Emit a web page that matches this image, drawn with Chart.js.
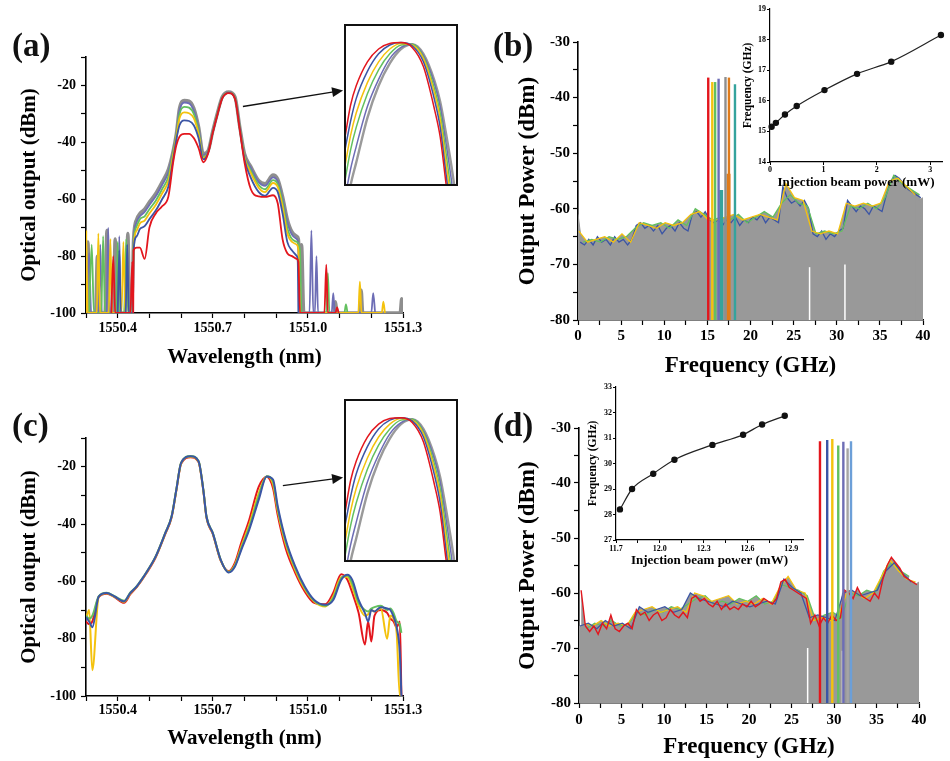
<!DOCTYPE html>
<html>
<head>
<meta charset="utf-8">
<script src="https://cdn.jsdelivr.net/npm/chart.js@4.4.1/dist/chart.umd.min.js"></script>
<style>
  body { margin: 0; background: #fff; }
  #fig { position: relative; width: 950px; height: 761px; background: #fff; overflow: hidden; }
  #fig canvas { position: absolute; }
  .plabel { position: absolute; font: bold 33px 'Liberation Serif', serif; line-height: 1; color: #111; }
</style>
</head>
<body>
<div id="fig">
  <canvas id="chartA" width="470" height="380" style="left:0;top:0"></canvas>
  <canvas id="chartB" width="470" height="385" style="left:480px;top:0"></canvas>
  <canvas id="chartC" width="470" height="381" style="left:0;top:380px"></canvas>
  <canvas id="chartD" width="470" height="381" style="left:480px;top:380px"></canvas>
  <canvas id="insetA" width="114" height="162" style="left:344px;top:24px;background:#fff"></canvas>
  <canvas id="insetC" width="114" height="163" style="left:344px;top:399px;background:#fff"></canvas>
  <canvas id="insetB" width="215" height="195" style="left:735px;top:0"></canvas>
  <canvas id="insetD" width="240" height="195" style="left:575px;top:380px"></canvas>
  <div class="plabel" style="left:12px;top:29px">(a)</div>
  <div class="plabel" style="left:493px;top:29px">(b)</div>
  <div class="plabel" style="left:12px;top:409px">(c)</div>
  <div class="plabel" style="left:493px;top:409px">(d)</div>
</div>
<script>
// ---------- (a) optical spectra ----------
const wlA = [1550.45, 1550.46, 1550.47, 1550.485, 1550.50, 1550.52, 1550.54, 1550.56, 1550.575, 1550.585, 1550.595,
  1550.61, 1550.625, 1550.64, 1550.655, 1550.67, 1550.685, 1550.70, 1550.715, 1550.73, 1550.75, 1550.77, 1550.785,
  1550.80, 1550.82, 1550.845, 1550.865, 1550.89, 1550.905, 1550.92, 1550.935, 1550.95, 1550.965];
const grayA = [-74, -67, -65, -63.5, -61, -58, -54, -49.5, -43, -37, -28, -25.3, -25.5, -28, -34.5, -44, -43, -36, -29.5,
  -24, -22.3, -24, -34.5, -44, -48.5, -53.5, -54.5, -51.5, -53, -59, -67, -71.5, -73];
const purpleA = [-75, -68, -66, -64.5, -62, -59, -55, -50.5, -43.2, -37.2, -28.8, -26, -26.3, -28.8, -35, -44.5, -43.3, -36.2, -29.7,
  -24.1, -22.4, -24.2, -34.7, -44.5, -49, -54, -55.3, -52.3, -53.8, -60, -68, -72.5, -74];
const greenA = [-76, -69.5, -67, -66, -63.5, -60.5, -56.5, -52, -43.5, -37.5, -30, -27.5, -27.8, -30, -36, -45, -43.5, -36.3, -29.8,
  -24.2, -22.5, -24.3, -34.8, -45, -50, -55, -56.5, -53.3, -54.8, -61, -70, -74, -75];
const yellowA = [-77, -71, -68.5, -67.5, -65, -62, -58, -53.5, -44.5, -38, -31.5, -29.5, -29.8, -31.5, -37, -45.5, -43.6, -36.4, -29.9,
  -24.3, -22.5, -24.4, -34.9, -45.3, -50.8, -56, -57.5, -54.3, -55.8, -62.5, -72, -75, -76];
const blueA = [-78, -73, -70.5, -69.5, -67, -64, -60, -55.5, -46, -39, -34, -32.3, -32.5, -34, -38.5, -46, -43.7, -36.5, -30,
  -24.4, -22.6, -24.5, -35, -46, -52.5, -57.5, -58.8, -56, -57.5, -65, -75, -78, -80];
const redA = [-78, -77, -77, -81, -70, -65, -62.5, -59, -47, -41, -38, -37, -37, -38.5, -42, -47, -44, -36.6, -30.1,
  -24.5, -22.7, -24.7, -35.5, -47, -56.5, -59, -59.2, -58.6, -61.5, -74, -79, -80, -81];

// noise floor on both sides, [wavelength, dBm]
const grayNoiseL = [[1550.300, -100], [1550.306, -75], [1550.312, -100], [1550.330, -100], [1550.336, -80], [1550.342, -100],
  [1550.360, -100], [1550.366, -71], [1550.372, -100], [1550.386, -100], [1550.392, -74], [1550.398, -100],
  [1550.425, -100], [1550.432, -72], [1550.438, -100], [1550.444, -100]];
const grayNoiseR = [[1550.970, -74], [1550.975, -82], [1550.980, -76], [1550.987, -100], [1551.082, -100], [1551.087, -96],
  [1551.092, -100], [1551.163, -100], [1551.168, -92], [1551.173, -100], [1551.291, -100], [1551.296, -95], [1551.300, -100]];
const purpleNoiseL = [[1550.300, -100], [1550.310, -79], [1550.316, -100], [1550.340, -100], [1550.345, -76], [1550.350, -100],
  [1550.365, -100], [1550.370, -70], [1550.376, -100], [1550.400, -100], [1550.405, -73], [1550.410, -100], [1550.444, -100]];
const purpleNoiseR = [[1550.970, -76], [1550.975, -100], [1551.005, -100], [1551.011, -71], [1551.017, -100], [1551.022, -100],
  [1551.027, -80], [1551.032, -100], [1551.075, -100], [1551.080, -93], [1551.085, -100], [1551.200, -100], [1551.206, -93], [1551.212, -100]];
const greenNoiseL = [[1550.310, -100], [1550.318, -76], [1550.325, -100], [1550.348, -100], [1550.354, -73], [1550.360, -100],
  [1550.395, -100], [1550.400, -75], [1550.405, -100], [1550.420, -100], [1550.427, -74], [1550.433, -100], [1550.446, -100]];
const greenNoiseR = [[1550.975, -78], [1550.980, -100], [1551.058, -100], [1551.063, -86], [1551.068, -100],
  [1551.115, -100], [1551.120, -97], [1551.125, -100]];
const yellowNoiseL = [[1550.300, -100], [1550.301, -71], [1550.305, -100], [1550.334, -100], [1550.339, -72], [1550.344, -100],
  [1550.372, -100], [1550.377, -74], [1550.382, -100], [1550.412, -100], [1550.418, -75], [1550.424, -100], [1550.447, -100]];
const yellowNoiseR = [[1550.970, -78], [1550.975, -100], [1551.159, -100], [1551.164, -89], [1551.169, -100],
  [1551.233, -100], [1551.238, -96], [1551.243, -100]];
const blueNoiseL = [[1550.400, -100], [1550.405, -78], [1550.410, -100], [1550.425, -100], [1550.430, -76], [1550.435, -100], [1550.448, -100]];
const blueNoiseR = [[1550.968, -82], [1550.970, -100]];
const redNoiseL = [[1550.380, -100], [1550.386, -80], [1550.392, -100], [1550.440, -100], [1550.446, -82], [1550.449, -100]];
const redNoiseR = [[1550.970, -82], [1550.975, -100], [1551.052, -100], [1551.058, -83], [1551.063, -100],
  [1551.087, -100], [1551.092, -98], [1551.097, -100]];

// ---------- (c) optical spectra ----------
const wlC = [1550.30, 1550.31, 1550.32, 1550.34, 1550.365, 1550.39, 1550.42, 1550.44, 1550.46, 1550.475, 1550.49, 1550.52,
  1550.55, 1550.57, 1550.585, 1550.60, 1550.63, 1550.655, 1550.67, 1550.68, 1550.70, 1550.725, 1550.75, 1550.77, 1550.79,
  1550.815, 1550.845, 1550.87, 1550.89, 1550.905, 1550.93, 1550.96, 1550.99, 1551.02, 1551.055, 1551.08, 1551.105, 1551.125,
  1551.14, 1551.16, 1551.18, 1551.19, 1551.20, 1551.21, 1551.23, 1551.25, 1551.26, 1551.27, 1551.28, 1551.29, 1551.295];
const blueC = [-72.5, -74, -76, -65.3, -64.1, -65.3, -67, -64, -61.8, -59.5, -57, -51.3, -43.2, -37.4, -28, -18.7, -16.4, -18.1,
  -28, -37.4, -43.2, -52.5, -56.9, -54.8, -49, -42, -31.5, -23.4, -24.5, -33.9, -45.5, -54.8, -61.8, -66.5, -68.2, -66.5,
  -59.5, -57.7, -59.5, -66.5, -71.1, -74, -70, -70.5, -69, -69.5, -70, -72.3, -76, -85, -100];
const greenC = [-72, -73, -72, -65.2, -64, -65.2, -66.8, -63.9, -61.7, -59.4, -56.9, -51.2, -43.1, -37.3, -27.9, -18.6, -16.3, -18,
  -27.9, -37.3, -43.1, -52.5, -56.8, -54.5, -48.4, -41.2, -30.3, -23.3, -25.2, -34.7, -46.2, -55.4, -62.2, -66.8, -68.5, -65.8,
  -59, -58, -60.8, -67.5, -70, -70.5, -69.5, -69, -68.5, -70, -69.5, -71, -74, -75, -78];
const yellowC = [-73, -70, -91, -65.4, -64.2, -65.4, -67.2, -64.2, -61.9, -59.6, -57.1, -51.4, -43.3, -37.5, -28.1, -18.8, -16.5, -18.2,
  -28.1, -37.5, -43.3, -52.6, -56.7, -54.2, -47.8, -40.2, -29.2, -23.4, -26, -35.5, -47, -56, -62.7, -67, -68.8, -65.2,
  -58.6, -58.4, -62, -68.5, -72, -71.5, -70, -70.5, -69.5, -80, -72, -73, -78, -100, -100];
const redC = [-74, -75, -74, -65.5, -64.3, -65.5, -67.5, -64.5, -62, -59.8, -57.3, -51.6, -43.5, -37.7, -28.3, -19, -16.7, -18.4,
  -28.3, -37.7, -43.5, -52.8, -56.5, -53.5, -46.5, -38.5, -27, -23.5, -27.5, -37, -48.5, -57, -63.5, -67.5, -68, -64,
  -57.5, -59.5, -64, -71, -82, -74, -81, -72, -70, -71, -73, -74, -76, -74, -100];

// zoomed peak insets of (a) and (c) (arbitrary units, same look in both)
const zoomX = [0, 5, 10, 20, 30, 40, 50, 60, 70, 80, 85, 90, 95, 100];
const zoomRed = [30, 50, 62, 77, 85, 88.5, 89, 86, 74, 47, 30, 2, -25, -60];
const zoomBlue = [22, 40, 54, 71, 82, 87.5, 89, 87, 77, 53, 36, 8, -20, -50];
const zoomYellow = [12, 31, 45, 64, 77, 85, 88.5, 87.5, 79, 57, 41, 15, -12, -40];
const zoomGreen = [3, 22, 36, 57, 72, 82, 87.5, 88, 80, 60, 45, 21, -5, -33];
const zoomPurple = [-8, 10, 24, 49, 66, 79, 86, 88, 81, 63, 49, 27, 3, -25];
const zoomGray = [-20, 0, 14, 42, 62, 76, 85, 88, 82, 65, 52, 33, 12, -12];

// ---------- (b) RF spectra ----------
const grayB = [-61, -67, -67.5, -67, -66.5, -67, -66, -66.5, -66, -67, -66.5, -66, -67,
  -64, -63.5, -64, -63.5, -64.5, -64, -64.5, -65, -64, -64.5, -64, -63.5, -65,
  -62, -61.5, -62, -61.5, -62.5, -63, -63.5, -63, -63.5, -63, -62.5, -63.5, -64, -63.5, -63, -64, -63, -63.5, -62.5, -63, -63.5,
  -62, -57, -59, -60, -59.5, -60.5, -60,
  -65, -65.5, -66, -65.5, -65, -65.5, -65, -64.5,
  -59.5, -60, -61, -61.5, -60.5, -61, -61.5, -60.5, -61,
  -59, -56, -55, -54.5, -56, -57, -57.5, -58, -58.5, -58];
const blueB = [-66, -66.5, -65.5, -66.5, -65, -66, -65.5, -66.5, -65, -66, -65.5, -66.5, -65.5,
  -63, -62.5, -63.5, -63, -64, -63, -64.5, -63.5, -63, -64, -62.5, -63.5, -64,
  -61, -60.5, -61.5, -60.5, -62, -62.5, -62, -63, -62, -62.5, -61.5, -63, -62, -62.5, -61.5, -62, -61, -62.5, -61.5, -62, -62.5,
  -56, -58, -59, -58.5, -59.5, -58.5, -60,
  -64.5, -65, -64, -65.5, -64.5, -65, -64, -63.5,
  -58.5, -59.5, -60.5, -59.5, -60, -61, -59.5, -60, -60.5,
  -57.5, -55, -54, -54.5, -55.5, -56.5, -57, -57.5, -58];
const yellowB = [-64, -66, -65.5, -65, -66, -64.5, -66, -62.5, -63, -63.5, -62.5, -63, -62.5, -61, -60.5, -62, -62, -61.5, -61, -62,
  -61.5, -61, -61.5, -62, -55.5, -58, -58.5, -64, -64.5, -64, -64.5, -59, -59.5, -59, -59.5, -59, -55, -54.5, -56, -57.5];
const greenB = [-66, -65.5, -66, -65, -65.5, -65, -63.5, -62.5, -63, -62.5, -63.5, -62, -63, -60, -61, -62, -61.5, -62, -61, -62.5,
  -61.5, -60.5, -61.5, -59, -57.5, -59, -59.5, -64.5, -64, -64.5, -64, -59.5, -60, -59, -60, -58, -54, -55.5, -56.5, -57.5];
const spikeFreqB = [15.1, 15.57, 15.9, 16.3, 17.1, 17.5, 18.2];
const spikeTopB = [-36.4, -37.2, -37.2, -36.6, -36.3, -36.4, -37.6];
const stubFreqB = [16.6, 17.45];
const stubTopB = [-56.6, -53.7];
const gapFreqB = [26.85, 30.95];
const gapTopB = [-70.5, -70];
const injB = [0.03, 0.11, 0.28, 0.5, 1.02, 1.63, 2.27, 3.2];
const freqB = [15.15, 15.28, 15.55, 15.83, 16.35, 16.88, 17.28, 18.15];

// ---------- (d) RF spectra ----------
const grayD = [-66, -67, -67.5, -67, -67.5, -66.5, -67, -66.5, -67, -67.5, -66.5, -67, -67,
  -64.5, -64, -64.5, -64, -65, -64.5, -65, -64.5, -65, -64, -64.5, -64.5, -65, -64.5,
  -61.5, -61, -61.5, -62, -62.5, -63, -62.5, -63, -63.5, -63, -63.5, -63, -63.5, -63, -62.5, -63, -62.5, -62, -62.5, -62, -61.5,
  -58.5, -58, -59.5, -60, -60.5, -61,
  -66, -66.5, -66, -66.5, -66, -66.5, -66, -65.5,
  -60, -60.5, -61, -61.5, -61, -61.5, -61.5, -61, -61,
  -59, -56.5, -55, -54.5, -55.5, -56.5, -57.5, -58, -58.5, -58];
const redD = [-59.5, -66, -67, -66, -67.5, -65.5, -66.5, -64, -66.5, -67, -66, -65.5, -66.5,
  -63, -64, -63.5, -65, -64, -63.5, -65, -64.5, -63, -64, -64.5, -63.5, -64.5,
  -61, -60.5, -61.5, -61, -62, -62.5, -61.5, -63, -62, -63, -62.5, -63, -62, -62.5, -61.5, -62.5, -62, -61, -61.5, -62, -61,
  -58, -57.5, -59, -59.5, -60, -60.5, -61,
  -65.5, -64, -66, -64.5, -65.5, -64, -65, -64.5,
  -59.5, -60, -61, -59, -60.5, -61, -61.5, -60, -61,
  -57.5, -55, -53.5, -54.5, -55.5, -57, -57.5, -58, -58.5];
const blueD = [-66, -65.5, -66.5, -65, -66, -65.5, -66.5, -62.5, -63.5, -63, -62.5, -63.5, -63, -60, -61, -61.5, -62, -62.5, -61.5, -62,
  -62.5, -62, -61.5, -62, -57.5, -59, -60, -64.5, -64, -64.5, -65, -60, -59.5, -60.5, -60, -59.5, -56, -54.5, -56.5, -58];
const yellowD = [-65.5, -66, -65, -66, -65.5, -66, -63.5, -63, -62.5, -63.5, -63, -62.5, -63.5, -60, -60.5, -61.5, -61, -60.5, -62, -61.5,
  -62, -61, -62, -59, -57, -59.5, -60, -65, -64.5, -65, -64, -59.5, -60, -61, -60, -57, -54, -56, -57.5, -58];
const greenD = [-66.5, -65.5, -66, -65, -66, -65.5, -63.5, -64, -63, -63.5, -62.5, -63, -62, -61, -60.5, -62, -61.5, -62, -61, -61.5,
  -60.5, -62, -61.5, -58.5, -59, -59.5, -60.5, -65, -64, -63.5, -64.5, -60, -60.5, -59.5, -60, -56, -54.5, -56, -57];
const spikeFreqD = [28.35, 29.2, 29.8, 30.5, 31.1, 31.6, 32.0];
const spikeTopD = [-32.4, -32.2, -32.0, -33.2, -32.5, -33.7, -32.4];
const gapFreqD = [26.9, 31.0];
const gapTopD = [-70, -70.5];
const injD = [11.727, 11.81, 11.955, 12.10, 12.36, 12.57, 12.70, 12.855];
const freqD = [28.2, 29.0, 29.6, 30.15, 30.73, 31.13, 31.53, 31.87];

// ---------- styling ----------
const FONT = "'Liberation Serif', 'Times New Roman', serif";
const RED = '#e3161d', BLUE = '#3b55a5', YELLOW = '#f4c20d', GREEN = '#63c05f',
  PURPLE = '#6d6db5', GRAY = '#8e8e8e', TEAL = '#35a39c', ORANGE = '#e07b1a', LIGHTBLUE = '#6c9fd8';
const FLOOR = '#999999';
const spikeColorsB = [RED, YELLOW, GREEN, PURPLE, GRAY, ORANGE, TEAL];
const stubColorsB = [TEAL, ORANGE];
const spikeColorsD = [RED, BLUE, YELLOW, GREEN, PURPLE, '#a5a5a5', LIGHTBLUE];

function pts(xs, ys) { return xs.map((x, i) => ({ x: x, y: ys[i] })); }
function pairs(list) { return list.map(p => ({ x: p[0], y: p[1] })); }
function sampled(start, step, ys) { return ys.map((y, i) => ({ x: start + i * step, y: y })); }
function trace(left, xs, ys, right) { return pairs(left).concat(pts(xs, ys), pairs(right)); }

function line(data, color, width, order, extra) {
  return Object.assign({ data: data, borderColor: color, backgroundColor: color, borderWidth: width,
    order: order, pointRadius: 0, fill: false }, extra || {});
}
// a noisy RF trace: coloured line on top, grey filled down to the floor
function rfTrace(data, color, width, order) {
  return line(data, color, width, order, { fill: 'start', backgroundColor: FLOOR });
}
function verticals(freqs, tops, colors, width, order, bottom) {
  return freqs.map((f, i) => line([{ x: f, y: bottom }, { x: f, y: tops[i] }],
    Array.isArray(colors) ? colors[i] : colors, width, order));
}

function axis(c) {
  return {
    type: 'linear', min: c.min, max: c.max,
    afterBuildTicks: s => { s.ticks = c.ticks.map(v => ({ value: v })); },
    afterFit: s => { if (c.width) s.width = c.width; if (c.height) s.height = c.height; },
    ticks: {
      autoSkip: false, maxRotation: 0, color: '#000', padding: c.tickPad,
      font: { family: FONT, weight: 'bold', size: c.tickSize },
      callback: v => c.major.some(m => Math.abs(m - v) < 1e-6) ? c.fmt(v) : ''
    },
    grid: { drawOnChartArea: false, tickLength: c.tickLen || 5, tickColor: '#000', tickWidth: c.tickW || 1.2 },
    border: { color: '#000', width: c.lineW || 1.6 },
    title: { display: true, text: c.title, color: '#000',
      font: { family: FONT, weight: 'bold', size: c.titleSize }, padding: c.titlePad }
  };
}

function baseOptions(pad, scales) {
  return {
    responsive: false, animation: false, events: [],
    layout: { padding: pad },
    plugins: { legend: { display: false }, tooltip: { enabled: false }, filler: { drawTime: 'beforeDatasetsDraw' } },
    elements: { point: { radius: 0 } },
    scales: scales
  };
}

function arrowPlugin(from, to) {
  return {
    id: 'arrow',
    afterDraw(chart) {
      const sx = chart.scales.x, sy = chart.scales.y, ctx = chart.ctx;
      const x1 = sx.getPixelForValue(from[0]), y1 = sy.getPixelForValue(from[1]);
      const x2 = sx.getPixelForValue(to[0]), y2 = sy.getPixelForValue(to[1]);
      const a = Math.atan2(y2 - y1, x2 - x1), c = Math.cos(a), s = Math.sin(a);
      ctx.save();
      ctx.strokeStyle = '#111'; ctx.fillStyle = '#111'; ctx.lineWidth = 1.3;
      ctx.beginPath(); ctx.moveTo(x1, y1); ctx.lineTo(x2 - 8 * c, y2 - 8 * s); ctx.stroke();
      ctx.beginPath(); ctx.moveTo(x2, y2);
      ctx.lineTo(x2 - 11 * c + 5 * s, y2 - 11 * s - 5 * c);
      ctx.lineTo(x2 - 11 * c - 5 * s, y2 - 11 * s + 5 * c);
      ctx.closePath(); ctx.fill();
      ctx.restore();
    }
  };
}

const framePlugin = {
  id: 'frame',
  afterDraw(chart) {
    const a = chart.chartArea, ctx = chart.ctx;
    ctx.save();
    ctx.strokeStyle = '#111'; ctx.lineWidth = 2;
    ctx.strokeRect(a.left, a.top, a.right - a.left, a.bottom - a.top);
    ctx.restore();
  }
};

const SMOOTH = { cubicInterpolationMode: 'monotone' };
const wlTicks = [1550.3, 1550.4, 1550.5, 1550.6, 1550.7, 1550.8, 1550.9, 1551.0, 1551.1, 1551.2, 1551.3];
const wlMajor = [1550.4, 1550.7, 1551.0, 1551.3];
const dbmTicks = [-100, -90, -80, -70, -60, -50, -40, -30, -20, -10];
const dbmMajor = [-100, -80, -60, -40, -20];
const ghzTicks = [0, 2.5, 5, 7.5, 10, 12.5, 15, 17.5, 20, 22.5, 25, 27.5, 30, 32.5, 35, 37.5, 40];
const ghzMajor = [0, 5, 10, 15, 20, 25, 30, 35, 40];
const rfTicks = [-80, -75, -70, -65, -60, -55, -50, -45, -40, -35, -30];
const rfMajor = [-80, -70, -60, -50, -40, -30];

function opticalScales(xTitlePad, xTickPad, height) {
  return {
    x: axis({ min: 1550.3, max: 1551.3, ticks: wlTicks, major: wlMajor, fmt: v => v.toFixed(1), height: height,
      tickSize: 14, tickPad: xTickPad, title: 'Wavelength (nm)', titleSize: 21, titlePad: { top: 0, bottom: xTitlePad } }),
    y: axis({ min: -100, max: -10, ticks: dbmTicks, major: dbmMajor, fmt: v => String(v), width: 86,
      tickSize: 14, tickPad: 5, title: 'Optical output (dBm)', titleSize: 21, titlePad: { top: 17, bottom: 0 } })
  };
}
function rfScales(width, height, xTitlePad, xTickPad) {
  return {
    x: axis({ min: 0, max: 40, ticks: ghzTicks, major: ghzMajor, fmt: v => String(v), height: height,
      tickSize: 15, tickPad: xTickPad, title: 'Frequency (GHz)', titleSize: 23, titlePad: { top: 0, bottom: xTitlePad } }),
    y: axis({ min: -80, max: -30, ticks: rfTicks, major: rfMajor, fmt: v => String(v), width: width,
      tickSize: 15, tickPad: 3, title: 'Output Power (dBm)', titleSize: 23, titlePad: { top: 34, bottom: 0 } })
  };
}

// ---------- (a) ----------
new Chart(document.getElementById('chartA'), {
  type: 'line',
  data: { datasets: [
    line(trace(grayNoiseL, wlA, grayA, grayNoiseR), GRAY, 3.4, 6, SMOOTH),
    line(trace(purpleNoiseL, wlA, purpleA, purpleNoiseR), PURPLE, 1.8, 5, SMOOTH),
    line(trace(greenNoiseL, wlA, greenA, greenNoiseR), GREEN, 1.8, 4, SMOOTH),
    line(trace(yellowNoiseL, wlA, yellowA, yellowNoiseR), YELLOW, 1.8, 3, SMOOTH),
    line(trace(blueNoiseL, wlA, blueA, blueNoiseR), BLUE, 1.8, 2, SMOOTH),
    line(trace(redNoiseL, wlA, redA, redNoiseR), RED, 1.8, 1, SMOOTH)
  ] },
  options: baseOptions({ left: 0, right: 67, top: 57, bottom: 0 }, opticalScales(10, 2, 67)),
  plugins: [arrowPlugin([1550.795, -27.4], [1551.111, -21.75])]
});

// ---------- (c) ----------
new Chart(document.getElementById('chartC'), {
  type: 'line',
  data: { datasets: [
    line(pts(wlC, redC), RED, 2, 4, SMOOTH),
    line(pts(wlC, yellowC), YELLOW, 2, 3, SMOOTH),
    line(pts(wlC, greenC), GREEN, 2, 2, SMOOTH),
    line(pts(wlC, blueC), BLUE, 2, 1, SMOOTH)
  ] },
  options: baseOptions({ left: 0, right: 67, top: 58, bottom: 0 }, opticalScales(10, 1, 65)),
  plugins: [arrowPlugin([1550.921, -26.6], [1551.111, -23.8])]
});

// ---------- zoomed peak insets ----------
function zoomInset(id) {
  new Chart(document.getElementById(id), {
    type: 'line',
    data: { datasets: [
      line(pts(zoomX, zoomGray), '#9a9a9a', 2.4, 6, SMOOTH),
      line(pts(zoomX, zoomPurple), PURPLE, 1.5, 5, SMOOTH),
      line(pts(zoomX, zoomGreen), GREEN, 1.5, 4, SMOOTH),
      line(pts(zoomX, zoomYellow), YELLOW, 1.5, 3, SMOOTH),
      line(pts(zoomX, zoomBlue), BLUE, 1.5, 2, SMOOTH),
      line(pts(zoomX, zoomRed), RED, 1.5, 1, SMOOTH)
    ] },
    options: baseOptions(1, {
      x: { type: 'linear', min: 0, max: 100, display: false },
      y: { type: 'linear', min: 0, max: 100, display: false }
    }),
    plugins: [framePlugin]
  });
}
zoomInset('insetA');
zoomInset('insetC');

// ---------- (b) ----------
new Chart(document.getElementById('chartB'), {
  type: 'line',
  data: { datasets: [
    line(sampled(0, 0.5, grayB), FLOOR, 1, 9, { fill: 'start' }),
    ...verticals(gapFreqB, gapTopB, '#ffffff', 1.5, 5, -80),
    rfTrace(sampled(0.25, 0.5, blueB), BLUE, 1.3, 3),
    rfTrace(sampled(0.1, 1, yellowB), YELLOW, 1.3, 2),
    rfTrace(sampled(0.6, 1, greenB), GREEN, 1.3, 2),
    ...verticals(stubFreqB, stubTopB, stubColorsB, 4, 1, -80),
    ...verticals(spikeFreqB, spikeTopB, spikeColorsB, 2.4, 0, -80)
  ] },
  options: baseOptions({ left: 0, right: 27, top: 42, bottom: 0 }, rfScales(98, 65, 5, 2))
});

// ---------- (d) ----------
new Chart(document.getElementById('chartD'), {
  type: 'line',
  data: { datasets: [
    line(sampled(0, 0.5, grayD), FLOOR, 1, 9, { fill: 'start' }),
    ...verticals(gapFreqD, gapTopD, '#ffffff', 1.5, 5, -80),
    rfTrace(sampled(0.1, 1, blueD), BLUE, 1.3, 3),
    rfTrace(sampled(0.6, 1, yellowD), YELLOW, 1.3, 3),
    rfTrace(sampled(0.85, 1, greenD), GREEN, 1.3, 3),
    rfTrace(sampled(0.25, 0.5, redD), RED, 1.4, 2),
    ...verticals(spikeFreqD, spikeTopD, spikeColorsD, 2.4, 0, -80)
  ] },
  options: baseOptions({ left: 0, right: 31, top: 48, bottom: 0 }, rfScales(99, 58, 0, 3))
});

// ---------- frequency vs injection power insets ----------
function powerInset(id, xs, ys, xc, yc, pad) {
  new Chart(document.getElementById(id), {
    type: 'line',
    data: { datasets: [line(pts(xs, ys), '#222', 1.2, 0, Object.assign({
      pointRadius: 2.6, pointBackgroundColor: '#111', pointBorderColor: '#111', clip: false }, SMOOTH))] },
    options: baseOptions(pad, {
      x: axis(Object.assign({ tickSize: 8, tickLen: 3, tickW: 1, lineW: 1.2, title: 'Injection beam power (mW)', titleSize: 13 }, xc)),
      y: axis(Object.assign({ tickSize: 8, tickLen: 3, tickW: 1, lineW: 1.2, title: 'Frequency (GHz)', titleSize: 11.5, tickPad: 1 }, yc))
    })
  });
}
powerInset('insetB', injB, freqB,
  { min: 0, max: 3.22, ticks: [0, 1, 2, 3], major: [0, 1, 2, 3], fmt: v => String(v), height: 33, tickPad: 0,
    titlePad: { top: 0, bottom: 5 } },
  { min: 14, max: 19, ticks: [14, 15, 16, 17, 18, 19], major: [14, 15, 16, 17, 18, 19], fmt: v => String(v), width: 35,
    titlePad: { top: 6, bottom: 0 } },
  { left: 0, right: 8, top: 9, bottom: 0 });
powerInset('insetD', injD, freqD,
  { min: 11.7, max: 12.98, ticks: [11.7, 11.85, 12.0, 12.15, 12.3, 12.45, 12.6, 12.75, 12.9], major: [11.7, 12.0, 12.3, 12.6, 12.9],
    fmt: v => v.toFixed(1), height: 35, tickPad: 1, titlePad: { top: 0, bottom: 7 } },
  { min: 27, max: 33, ticks: [27, 28, 29, 30, 31, 32, 33], major: [27, 28, 29, 30, 31, 32, 33], fmt: v => String(v), width: 41,
    titlePad: { top: 11, bottom: 0 } },
  { left: 0, right: 12, top: 7, bottom: 0 });
</script>
</body>
</html>
